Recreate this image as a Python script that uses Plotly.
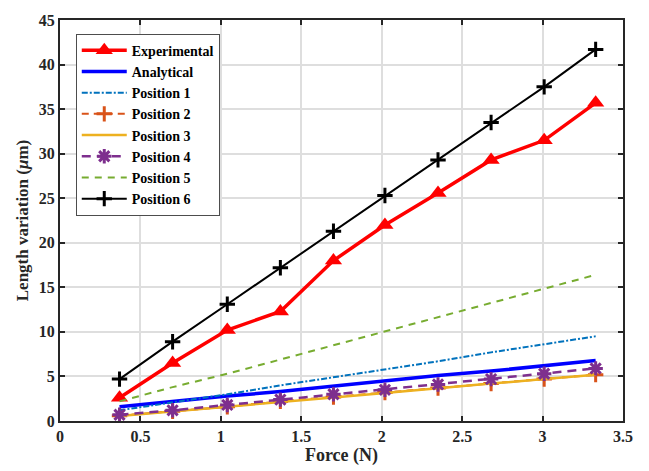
import plotly.graph_objects as go

force = [0.37, 0.70, 1.04, 1.37, 1.70, 2.02, 2.35, 2.68, 3.01, 3.33]
experimental = [2.6, 6.5, 10.2, 12.3, 18.0, 22.0, 25.6, 29.3, 31.5, 35.7]
analytical = [1.6, 2.2, 2.8, 3.3, 3.9, 4.5, 5.1, 5.6, 6.2, 6.8]
position1 = [1.2, 2.1, 3.0, 4.0, 4.9, 5.8, 6.7, 7.7, 8.6, 9.5]
position2 = [0.6, 1.1, 1.6, 2.2, 2.7, 3.2, 3.7, 4.2, 4.7, 5.2]
position3 = [0.55, 1.05, 1.6, 2.1, 2.65, 3.15, 3.7, 4.2, 4.7, 5.2]
position4 = [0.7, 1.2, 1.8, 2.4, 3.0, 3.5, 4.1, 4.7, 5.3, 5.9]
position5 = [2.2, 3.8, 5.3, 6.9, 8.5, 10.0, 11.6, 13.2, 14.8, 16.4]
position6 = [4.7, 8.9, 13.1, 17.2, 21.3, 25.3, 29.3, 33.5, 37.5, 41.7]

x_ticks = [0, 0.5, 1, 1.5, 2, 2.5, 3, 3.5]
x_tick_labels = ["0", "0.5", "1", "1.5", "2", "2.5", "3", "3.5"]
y_ticks = [0, 5, 10, 15, 20, 25, 30, 35, 40, 45]
y_tick_labels = ["0", "5", "10", "15", "20", "25", "30", "35", "40", "45"]

fig = go.Figure()
fig.add_trace(go.Scatter(x=force, y=experimental, name="Experimental", mode="lines+markers",
                         line=dict(color="#ff0000", width=3.5),
                         marker=dict(symbol="triangle-up", size=15, color="#ff0000")))
fig.add_trace(go.Scatter(x=force, y=analytical, name="Analytical", mode="lines",
                         line=dict(color="#0000ff", width=3.5)))
fig.add_trace(go.Scatter(x=force, y=position1, name="Position 1", mode="lines",
                         line=dict(color="#0072bd", width=2, dash="6px,2px,2px,2px")))
fig.add_trace(go.Scatter(x=force, y=position2, name="Position 2", mode="lines+markers",
                         line=dict(color="#d95319", width=2, dash="7px,5px"),
                         marker=dict(symbol="cross-thin-open", size=11, line=dict(color="#d95319", width=3))))
fig.add_trace(go.Scatter(x=force, y=position3, name="Position 3", mode="lines",
                         line=dict(color="#edb120", width=2.5)))
fig.add_trace(go.Scatter(x=force, y=position4, name="Position 4", mode="lines+markers",
                         line=dict(color="#7e2f8e", width=2.5, dash="9px,6px"),
                         marker=dict(symbol="asterisk-open", size=12, line=dict(color="#7e2f8e", width=3))))
fig.add_trace(go.Scatter(x=force, y=position5, name="Position 5", mode="lines",
                         line=dict(color="#77ac30", width=2, dash="7px,6px")))
fig.add_trace(go.Scatter(x=force, y=position6, name="Position 6", mode="lines+markers",
                         line=dict(color="#000000", width=2),
                         marker=dict(symbol="cross-thin-open", size=11, line=dict(color="#000000", width=3))))

axis_common = dict(showline=True, linecolor="#262626", linewidth=2, mirror="ticks",
                   ticks="inside", ticklen=5, tickcolor="#262626", tickwidth=1.5,
                   showgrid=True, gridcolor="#dedede", gridwidth=1.5, zeroline=False,
                   tickfont=dict(family="Liberation Serif", size=16, color="#262626"))

fig.update_layout(
    width=649, height=471,
    margin=dict(l=60, r=26, t=15, b=49),
    plot_bgcolor="white", paper_bgcolor="white",
    font=dict(family="Liberation Serif", color="#262626"),
    xaxis=dict(range=[0, 3.5], tickmode="array", tickvals=x_ticks,
               ticktext=["<b>%s</b>" % t for t in x_tick_labels],
               title=dict(text="<b>Force (N)</b>", font=dict(size=18), standoff=1), **axis_common),
    yaxis=dict(range=[0, 45], tickmode="array", tickvals=y_ticks,
               ticktext=["<b>%s</b>" % t for t in y_tick_labels],
               title=dict(text="<b>Length variation (<i>μ</i>m)</b>", font=dict(size=17), standoff=6), **axis_common),
    legend=dict(x=0.028, y=0.966, xanchor="left", yanchor="top",
                bgcolor="white", bordercolor="#4d4d4d", borderwidth=1,
                font=dict(family="Liberation Serif", size=14, color="#000000"),
                itemwidth=45, tracegroupgap=0),
    showlegend=True,
)
for tr in fig.data:
    tr.name = "<b>%s</b>" % tr.name

fig.write_html("out.html", config={"displayModeBar": False},
               post_script="document.body.style.margin='0';document.body.style.overflow='hidden';")
